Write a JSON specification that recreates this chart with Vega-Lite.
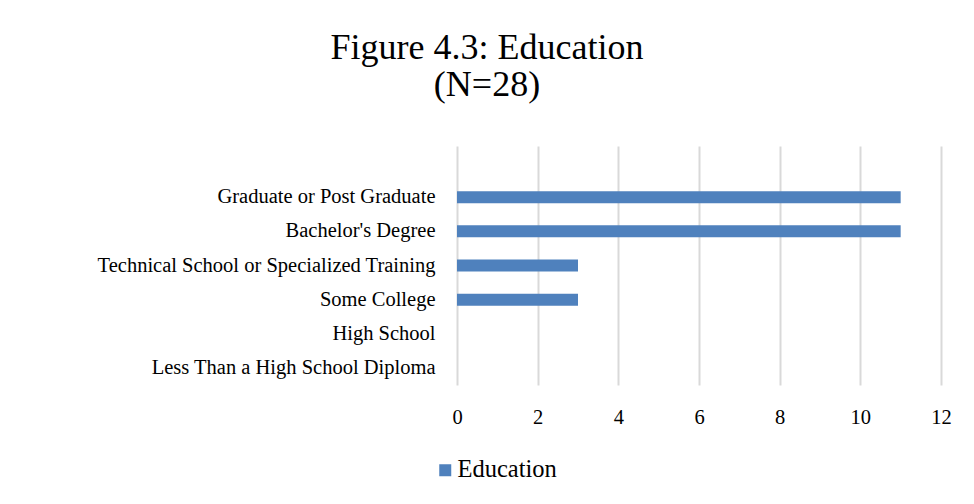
{
  "$schema": "https://vega.github.io/schema/vega-lite/v6.json",
  "width": 484,
  "height": 239,
  "autosize": {"type": "none"},
  "padding": {"left": 457, "top": 146, "right": 33, "bottom": 119},
  "background": "white",
  "title": {
    "text": ["Figure 4.3: Education", "(N=28)"],
    "font": "Liberation Serif",
    "fontSize": 36,
    "fontWeight": "normal",
    "lineHeight": 37,
    "color": "#000000",
    "anchor": "middle",
    "dx": -212,
    "offset": 42
  },
  "data": {
    "values": [
      {"level": "Graduate or Post Graduate", "count": 11, "series": "Education"},
      {"level": "Bachelor's Degree", "count": 11, "series": "Education"},
      {"level": "Technical School or Specialized Training", "count": 3, "series": "Education"},
      {"level": "Some College", "count": 3, "series": "Education"},
      {"level": "High School", "count": 0, "series": "Education"},
      {"level": "Less Than a High School Diploma", "count": 0, "series": "Education"}
    ]
  },
  "mark": {"type": "bar", "size": 12},
  "encoding": {
    "y": {
      "field": "level",
      "type": "nominal",
      "sort": null,
      "scale": {
        "domain": [" ", "Graduate or Post Graduate", "Bachelor's Degree", "Technical School or Specialized Training", "Some College", "High School", "Less Than a High School Diploma"],
        "paddingInner": 0, "paddingOuter": 0
      },
      "axis": {
        "title": null,
        "domain": false,
        "ticks": false,
        "labelPadding": 22,
        "labelFont": "Liberation Serif",
        "labelFontSize": 20.5,
        "labelColor": "#000000",
        "labelLimit": 500
      }
    },
    "x": {
      "field": "count",
      "type": "quantitative",
      "scale": {"domain": [0, 12], "nice": false},
      "axis": {
        "title": null,
        "values": [0, 2, 4, 6, 8, 10, 12],
        "domain": false,
        "ticks": false,
        "grid": true,
        "gridColor": "#D9D9D9",
        "gridWidth": 2,
        "labelFlush": false,
        "labelPadding": 22,
        "labelFont": "Liberation Serif",
        "labelFontSize": 20.5,
        "labelColor": "#000000"
      }
    },
    "color": {
      "field": "series",
      "type": "nominal",
      "scale": {"range": ["#4F81BD"]},
      "legend": {
        "title": null,
        "orient": "none",
        "legendX": -24,
        "legendY": 312,
        "symbolType": "square",
        "symbolSize": 144,
        "symbolStrokeWidth": 0,
        "labelFont": "Liberation Serif",
        "labelFontSize": 24.5,
        "labelColor": "#000000",
        "labelOffset": 0
      }
    }
  },
  "config": {"view": {"stroke": null}}
}
